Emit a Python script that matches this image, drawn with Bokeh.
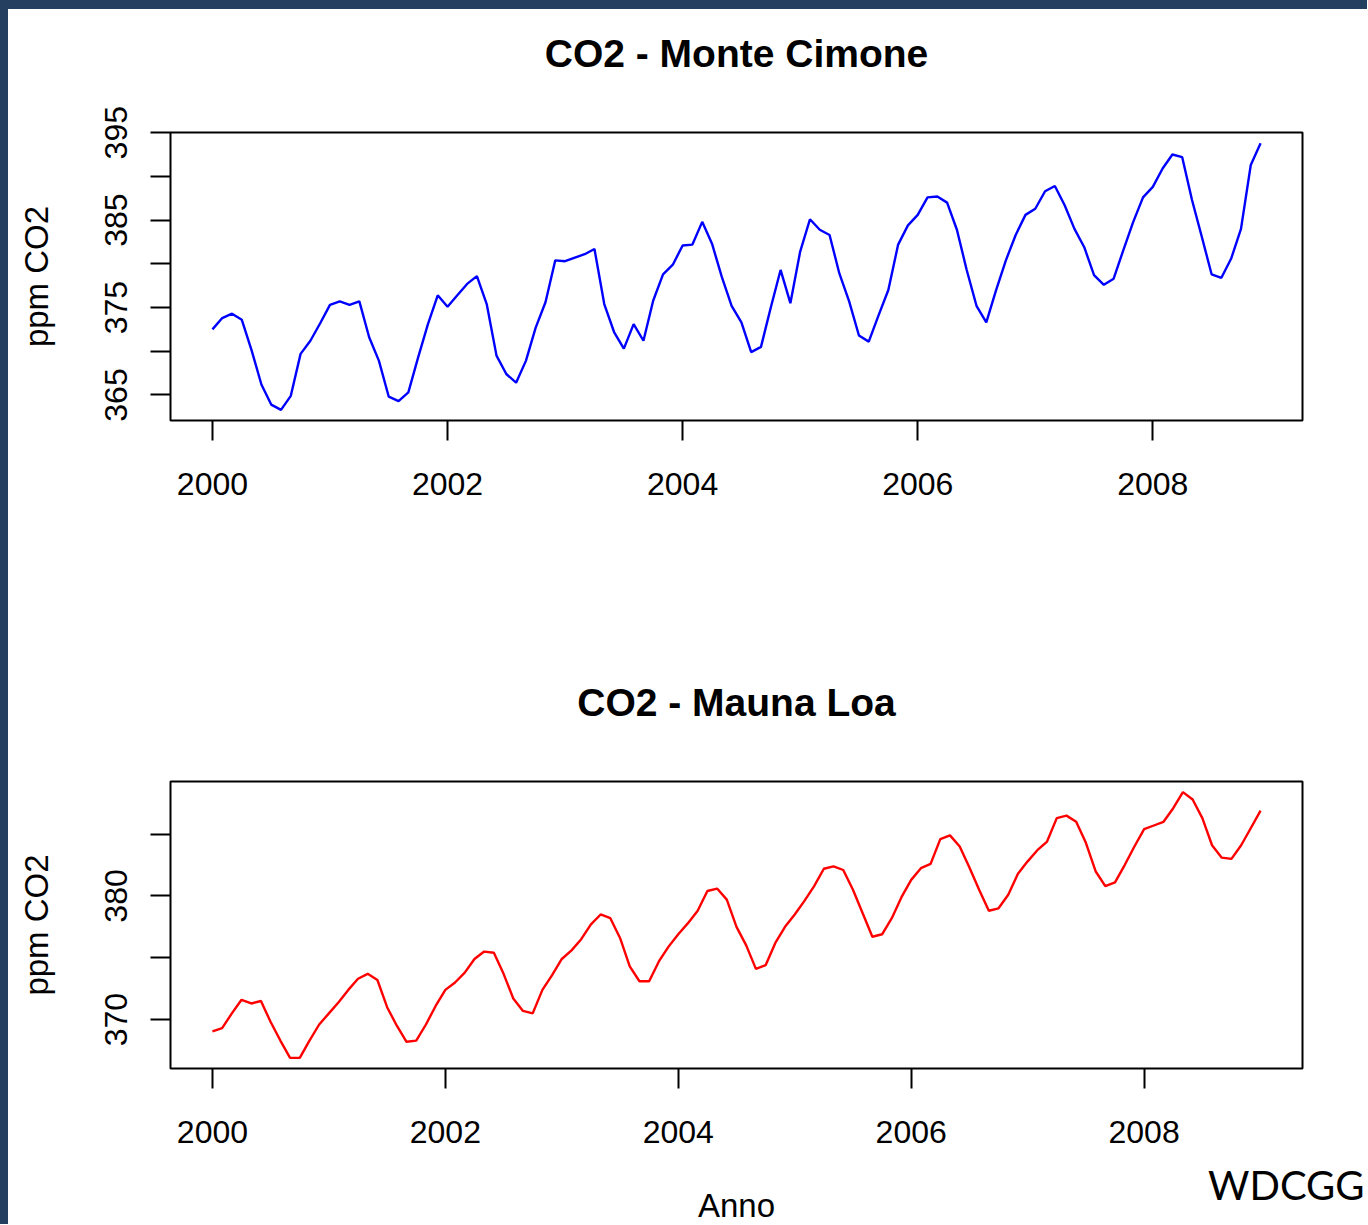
from bokeh.plotting import figure
from bokeh.layouts import column, row
from bokeh.models import Range1d, FixedTicker, Label, LinearAxis, Spacer
from bokeh.embed import file_html
from bokeh.resources import INLINE

# ---------------- data ----------------
start_year = 2000
titles = ["CO2 - Monte Cimone", "CO2 - Mauna Loa"]
y_label = "ppm CO2"
x_label = "Anno"
source_note = "WDCGG"

cimone_ppm = [
    372.5, 373.8, 374.3, 373.6, 370.1, 366.2, 363.9, 363.3, 364.9, 369.7, 371.2, 373.2,
    375.3, 375.7, 375.3, 375.7, 371.6, 368.9, 364.8, 364.3, 365.3, 369.3, 373.1, 376.4,
    375.1, 376.4, 377.7, 378.6, 375.4, 369.5, 367.4, 366.4, 368.9, 372.7, 375.6, 380.4,
    380.3, 380.7, 381.1, 381.7, 375.4, 372.2, 370.3, 373.1, 371.2, 375.8, 378.8, 379.9,
    382.1, 382.2, 384.8, 382.3, 378.5, 375.2, 373.3, 369.9, 370.5, 375.0, 379.3, 375.5,
    381.4, 385.1, 383.9, 383.3, 378.9, 375.7, 371.8, 371.1, 374.1, 377.0, 382.2, 384.4,
    385.6, 387.6, 387.7, 387.0, 383.9, 379.3, 375.2, 373.3, 377.0, 380.4, 383.3, 385.6,
    386.3, 388.3, 388.9, 386.7, 384.0, 381.9, 378.7, 377.6, 378.3, 381.6, 384.8, 387.6,
    388.8, 390.9, 392.5, 392.2, 387.3, 383.1, 378.8, 378.4, 380.6, 384.0, 391.3, 393.8,
]
maunaloa_ppm = [
    369.05, 369.3, 370.5, 371.6, 371.3, 371.5, 369.8, 368.3, 366.9, 366.9, 368.3, 369.6,
    370.5, 371.4, 372.4, 373.3, 373.7, 373.2, 371.0, 369.5, 368.2, 368.3, 369.6, 371.1,
    372.4, 373.0, 373.8, 374.9, 375.5, 375.4, 373.7, 371.7, 370.7, 370.5, 372.4, 373.6,
    374.9, 375.6, 376.5, 377.7, 378.5, 378.2, 376.6, 374.3, 373.1, 373.1, 374.7, 375.9,
    376.9, 377.8, 378.8, 380.4, 380.6, 379.7, 377.5, 376.0, 374.1, 374.4, 376.2, 377.5,
    378.5, 379.6, 380.8, 382.2, 382.4, 382.1, 380.5, 378.6, 376.7, 376.9, 378.2, 379.9,
    381.3, 382.25, 382.6, 384.6, 384.9, 384.0, 382.3, 380.5, 378.8, 379.0, 380.1, 381.8,
    382.8, 383.7, 384.4, 386.3, 386.5, 386.0, 384.3, 382.0, 380.8, 381.1, 382.5, 384.0,
    385.4, 385.7, 386.0, 387.1, 388.4, 387.8, 386.3, 384.1, 383.1, 383.0, 384.1, 385.5,
    386.9,
]

x_ticks = [2000, 2002, 2004, 2006, 2008]
x_tick_labels = ["2000", "2002", "2004", "2006", "2008"]
cimone_y_ticks = [365, 370, 375, 380, 385, 390, 395]
cimone_y_labels = ["365", "", "375", "", "385", "", "395"]
maunaloa_y_ticks = [370, 375, 380, 385]
maunaloa_y_labels = ["370", "", "380", ""]

# ---------------- helpers ----------------
FONT = "Liberation Sans"
W = 1359
FRAME_BG = "#243F60"


def months(n):
    return [start_year + i / 12 for i in range(n)]


def padded(vals):
    lo, hi = min(vals), max(vals)
    d = (hi - lo) * 0.04
    return Range1d(lo - d, hi + d)


def make_fig(title, vals, color, yticks, ylabels, height, top, bottom):
    xs = months(len(vals))
    p = figure(width=W, height=height, output_backend="svg", toolbar_location=None,
               x_range=padded(xs), y_range=padded(vals),
               min_border_left=162, min_border_right=65,
               min_border_top=top, min_border_bottom=bottom)
    p.line(xs, vals, line_color=color, line_width=2.4)

    p.outline_line_color = "black"
    p.outline_line_width = 2
    p.outline_line_alpha = 1
    p.xgrid.visible = False
    p.ygrid.visible = False
    p.background_fill_color = "white"
    p.border_fill_color = "white"

    for ax in (p.xaxis[0], p.yaxis[0]):
        ax.axis_line_color = None
        ax.major_tick_out = 20
        ax.major_tick_in = 0
        ax.minor_tick_line_color = None
        ax.major_tick_line_color = "black"
        ax.major_tick_line_width = 2
        ax.major_label_text_font = FONT
        ax.major_label_text_font_size = "32px"
        ax.major_label_text_color = "black"
        ax.axis_label_text_font = FONT
        ax.axis_label_text_font_size = "33px"
        ax.axis_label_text_font_style = "normal"
        ax.axis_label_text_color = "black"

    p.xaxis.ticker = FixedTicker(ticks=x_ticks)
    p.xaxis.major_label_overrides = dict(zip(x_ticks, x_tick_labels))
    p.xaxis.major_label_standoff = 32

    p.yaxis.ticker = FixedTicker(ticks=yticks)
    p.yaxis.major_label_overrides = dict(zip(yticks, ylabels))
    p.yaxis.major_label_orientation = "vertical"
    p.yaxis.major_label_standoff = 23
    p.yaxis.axis_label = y_label
    p.yaxis.axis_label_standoff = 48

    # main title, drawn as the label of an empty axis above the frame
    tax = LinearAxis(axis_label=title, ticker=FixedTicker(ticks=[]),
                     axis_line_color=None, major_tick_out=0, major_tick_in=0,
                     minor_tick_out=0, minor_tick_in=0,
                     major_label_text_font_size="0px", major_label_standoff=0,
                     axis_label_text_font=FONT, axis_label_text_font_size="39px",
                     axis_label_text_font_style="bold", axis_label_text_color="black",
                     axis_label_standoff=58)
    p.add_layout(tax, "above")
    return p


p1 = make_fig(titles[0], cimone_ppm, "#0000FF", cimone_y_ticks, cimone_y_labels,
              height=611, top=123, bottom=200)
p2 = make_fig(titles[1], maunaloa_ppm, "#FF0000", maunaloa_y_ticks, maunaloa_y_labels,
              height=540, top=161, bottom=92)

# bottom strip holding the x-axis title and the source note
p3 = figure(width=W, height=64, output_backend="svg", toolbar_location=None,
            x_range=Range1d(0, 1), y_range=Range1d(0, 1),
            x_axis_type=None, y_axis_type=None, frame_align=False,
            min_border=0, min_border_left=0, min_border_right=0,
            min_border_top=0, min_border_bottom=0)
p3.outline_line_color = None
p3.xgrid.visible = False
p3.ygrid.visible = False
p3.title.visible = False
p3.add_layout(Label(x=728, y=19, x_units="screen", y_units="screen", text=x_label,
                    text_font=FONT, text_font_size="33px", text_color="black",
                    text_align="center", text_baseline="alphabetic"))
p3.add_layout(Label(x=1356, y=40, x_units="screen", y_units="screen", text=source_note,
                    text_font="Lato", text_font_size="40px", text_color="black",
                    text_align="right", text_baseline="alphabetic"))

left_bar = Spacer(width=8, height=1224, styles={"background-color": FRAME_BG})
top_bar = Spacer(width=W, height=9, styles={"background-color": FRAME_BG})

layout = row(left_bar, column(top_bar, p1, p2, p3))
open("out.html", "w").write(file_html(layout, INLINE))
